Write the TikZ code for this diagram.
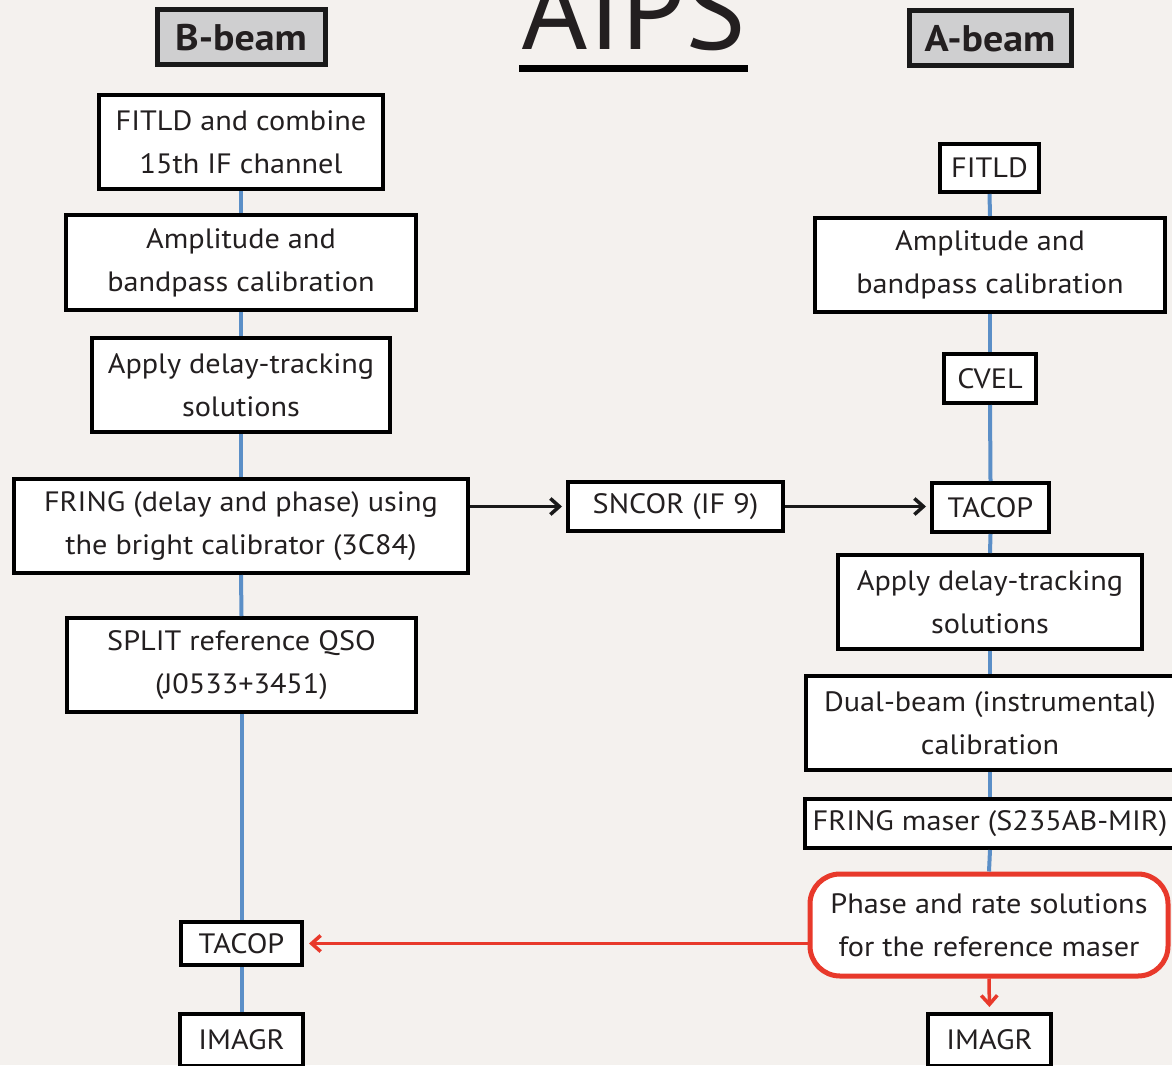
\documentclass[tikz,border=0pt]{standalone}
\usepackage{fontspec}
\setmainfont{PT Sans}
\newfontfamily\bodyfont[FakeStretch=1.08]{PT Sans}
\usetikzlibrary{arrows.meta}
\definecolor{txt}{HTML}{231F20}
\definecolor{conn}{HTML}{5B8FC7}
\definecolor{redc}{HTML}{E8392B}
\definecolor{bg}{HTML}{F4F1EE}
\definecolor{hdr}{HTML}{CFCFD0}
\tikzset{
  stepbox/.style={draw=black, line width=4pt, fill=white, align=center, inner sep=0pt,
    text=txt, font=\bodyfont\fontsize{28}{43}\selectfont},
  hdrbox/.style={draw=black!90, line width=5pt, fill=hdr, inner sep=0pt,
    text=txt, font=\bodyfont\fontsize{37}{40}\selectfont\bfseries},
  redbox/.style={stepbox, draw=redc, line width=5pt, rounded corners=30pt},
  link/.style={draw=conn, line width=4pt},
  blackarrow/.style={draw=black!90, line width=3.5pt, -{Straight Barb[length=9pt,width=16pt,line width=3.5pt]}},
  redarrow/.style={draw=redc, line width=3.5pt, -{Straight Barb[length=9pt,width=16pt,line width=3.5pt]}}
}
\begin{document}
\begin{tikzpicture}[x=1pt,y=-1pt]
\useasboundingbox (0,0) rectangle (1172,1065);
\fill[bg] (0,0) rectangle (1172,1065);

% title
\node[anchor=base, inner sep=0pt, text=txt, font=\fontsize{114}{114}\selectfont] (title) at (634,50) {AIPS};
\fill[black] (519,65) rectangle (748,72);

% headers
\node[hdrbox, minimum width=168pt, minimum height=55pt] (bb) at (241,37.5) {B-beam};
\node[hdrbox, minimum width=162pt, minimum height=55pt] (ab) at (990,38.5) {A-beam};

% left column
\node[stepbox, minimum width=284pt, minimum height=94pt] (L1) at (241,142) {FITLD and combine\\15th IF channel};
\node[stepbox, minimum width=350pt, minimum height=95pt] (L2) at (241,262.5) {Amplitude and\\bandpass calibration};
\node[stepbox, minimum width=298pt, minimum height=94pt] (L3) at (241,385) {Apply delay-tracking\\solutions};
\node[stepbox, minimum width=454pt, minimum height=94pt] (L4) at (241,526) {FRING (delay and phase) using\\the bright calibrator (3C84)};
\node[stepbox, minimum width=349pt, minimum height=94pt] (L5) at (241.5,665) {SPLIT reference QSO\\(J0533+3451)};
\node[stepbox, minimum width=121pt, minimum height=43pt] (L6) at (241.5,943.5) {TACOP};
\node[stepbox, minimum width=123pt, minimum height=52pt] (L7) at (241.5,1040) {IMAGR};

% middle
\node[stepbox, minimum width=215pt, minimum height=49pt] (S) at (675.5,506.5) {SNCOR (IF 9)};

% right column
\node[stepbox, minimum width=99pt, minimum height=48pt] (R1) at (989.5,168) {FITLD};
\node[stepbox, minimum width=350pt, minimum height=94pt] (R2) at (990,265) {Amplitude and\\bandpass calibration};
\node[stepbox, minimum width=92pt, minimum height=49pt] (R3) at (990,378.5) {CVEL};
\node[stepbox, minimum width=117pt, minimum height=49pt] (R4) at (990.5,507.5) {TACOP};
\node[stepbox, minimum width=304pt, minimum height=94pt] (R5) at (990,602) {Apply delay-tracking\\solutions};
\node[stepbox, minimum width=368pt, minimum height=94pt] (R6) at (990,723) {Dual-beam (instrumental)\\calibration};
\node[stepbox, minimum width=370pt, minimum height=49pt] (R7) at (990,823.5) {FRING maser (S235AB-MIR)};
\node[redbox, minimum width=358pt, minimum height=102pt] (R8) at (989,925) {Phase and rate solutions\\for the reference maser};
\node[stepbox, minimum width=123pt, minimum height=52pt] (R9) at (989.5,1040) {IMAGR};

% connectors
\draw[link] (L1.south) -- (L2.north);
\draw[link] (L2.south) -- (L3.north);
\draw[link] (L3.south) -- (L4.north);
\draw[link] (L4.south) -- (L5.north);
\draw[link] (L5.south) -- (L6.north);
\draw[link] (L6.south) -- (L7.north);
\draw[link] (R1.south) -- (R2.north);
\draw[link] (R2.south) -- (R3.north);
\draw[link] (R3.south) -- (R4.north);
\draw[link] (R4.south) -- (R5.north);
\draw[link] (R5.south) -- (R6.north);
\draw[link] (R6.south) -- (R7.north);
\draw[link] (R7.south) -- (R8.north);

\draw[blackarrow, shorten >=4pt] (L4.east |- S.west) -- (S.west);
\draw[blackarrow, shorten >=4pt] (S.east) -- (S.east -| R4.west);
\draw[redarrow, shorten >=5pt] (R8.west |- L6.east) -- (L6.east);
\draw[redarrow, shorten >=5pt] (R8.south) -- (R9.north);
\end{tikzpicture}
\end{document}
